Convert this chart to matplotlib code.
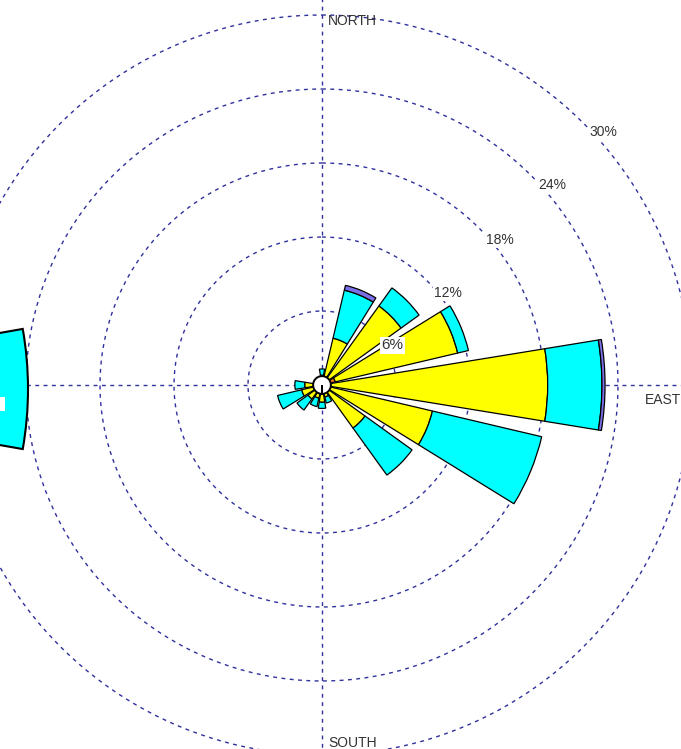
import numpy as np
import matplotlib
matplotlib.use("Agg")
from matplotlib import pyplot as plt
from matplotlib.patches import Wedge, Rectangle
from matplotlib.transforms import IdentityTransform

plt.rcParams['font.family'] = ['Liberation Sans', 'DejaVu Sans']

# 16 compass sectors, clockwise from north
directions = ['N', 'NNE', 'NE', 'ENE', 'E', 'ESE', 'SE', 'SSE',
              'S', 'SSW', 'SW', 'WSW', 'W', 'WNW', 'NW', 'NNW']
dir_deg = [0, 22.5, 45, 67.5, 90, 112.5, 135, 157.5,
           180, 202.5, 225, 247.5, 270, 292.5, 315, 337.5]

# frequency (%) per speed class, stacked outward
freq_orange = [0, 0, 0, 1.1, 0, 0, 0, 0, 0, 0, 0, 0, 0, 0, 0, 0]
freq_yellow = [0.8, 3.9, 7.9, 10.2, 18.3, 9.2, 4.3, 1.0, 1.4, 1.1, 1.4, 1.7, 1.4, 0, 0, 0]
freq_cyan = [0.5, 4.0, 1.8, 0.9, 4.4, 9.1, 4.7, 0.5, 0.5, 0.7, 1.1, 2.0, 0.8, 0, 0, 0]
freq_purple = [0, 0.4, 0, 0, 0.25, 0, 0, 0, 0, 0, 0, 0, 0, 0, 0, 0]
calm_r = 0.72

ring_vals = [6, 12, 18, 24, 30]
ring_labels = ['6%', '12%', '18%', '24%', '30%']
ring_label_deg = [60.3, 53.9, 50.8, 49.0, 48.1]
ring_label_r = [6.54, 12.65, 18.6, 24.7, 30.7]
ring_label_size = [11, 10, 10, 10, 10]

compass_names = ['NORTH', 'EAST', 'SOUTH']
compass_deg = [0.94, 92.66, 179.04]
compass_r = [29.52, 26.2, 29.03]

classes = [
    (freq_orange, '#F07020'),
    (freq_yellow, '#FFFF00'),
    (freq_cyan, '#00FFFF'),
    (freq_purple, '#7B70E8'),
]

W, H = 681, 749
cx, cy = 322, 385
px_per_pct = 370 / 30
rmax = 32
rad_px = rmax * px_per_pct

fig = plt.figure(figsize=(W / 100, H / 100), dpi=100)
ax = fig.add_axes([(cx - rad_px) / W, (H - cy - rad_px) / H,
                   2 * rad_px / W, 2 * rad_px / H], projection='polar')
ax.set_theta_zero_location('N')
ax.set_theta_direction(-1)
ax.set_ylim(0, rmax)
ax.grid(False)
ax.set_xticks([])
ax.set_yticks([])
ax.spines['polar'].set_visible(False)
ax.patch.set_alpha(0)

grid_kw = dict(color='#30309C', lw=1.0, ls=(0, (2.8, 3.2)), zorder=1)
t = np.linspace(0, 2 * np.pi, 400)
for rv in ring_vals:
    ax.plot(t, np.full_like(t, rv), **grid_kw)
for a in [0, 90, 180, 270]:
    ax.plot([np.radians(a)] * 2, [0, rmax], **grid_kw)

theta = np.radians(dir_deg)
width = np.radians(18.5)
bottom = np.zeros(len(dir_deg))
for vals, col in classes:
    vals = np.array(vals, dtype=float)
    m = vals > 0
    ax.bar(theta[m], vals[m], width=width, bottom=bottom[m], color=col,
           edgecolor='black', linewidth=0.9, zorder=3)
    bottom += vals

# calm circle
ax.bar(0, calm_r, width=2 * np.pi, bottom=0, color='white',
       edgecolor='black', linewidth=1.4, zorder=5)

for lab, d, r, fs in zip(ring_labels, ring_label_deg, ring_label_r, ring_label_size):
    ax.text(np.radians(d), r, lab, ha='center', va='center', fontsize=fs,
            color='#333333', zorder=6,
            bbox=dict(boxstyle='square,pad=0.1', fc='white', ec='none'))

for name, d, r in zip(compass_names, compass_deg, compass_r):
    ax.text(np.radians(d), r, name, ha='left', va='center', fontsize=10,
            color='#333333', zorder=6)

# bar of the neighbouring rose, cut at the left edge
nb = Wedge((-318, H - 389), 346, -10, 10, facecolor='#00FFFF',
           edgecolor='black', linewidth=1.5, transform=IdentityTransform())
fig.add_artist(nb)
fig.add_artist(Rectangle((-4, H - 411), 9, 14, facecolor='white',
                         edgecolor='none', transform=IdentityTransform()))

fig.savefig('out.png', dpi=100)
